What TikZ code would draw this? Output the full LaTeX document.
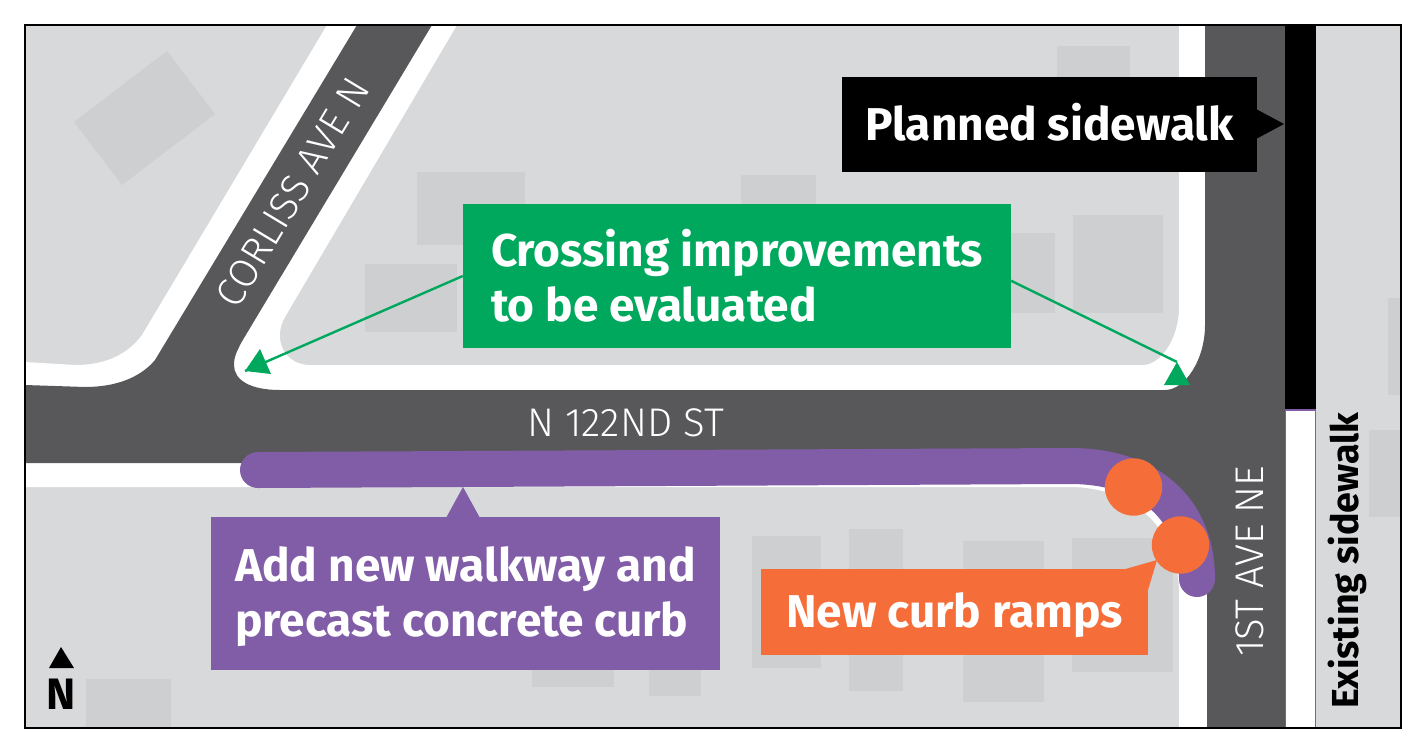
\documentclass[tikz,border=0pt]{standalone}
\usepackage{fontspec}
\setmainfont{Fira Sans}
\newfontfamily\streetfont{Fira Sans Light}
\usetikzlibrary{positioning}
\definecolor{lotgray}{HTML}{D8D9DB}
\definecolor{housegray}{HTML}{CECFD1}
\definecolor{roadgray}{HTML}{58585A}
\definecolor{walkpurple}{HTML}{805DA6}
\definecolor{crossgreen}{HTML}{00A85D}
\definecolor{rampOrange}{HTML}{F56D38}
\tikzset{
  house/.style={fill=housegray},
  notebox/.style={rectangle,inner sep=0pt,text=white,align=left,font=\bfseries\fontsize{46}{55}\selectfont},
  streetname/.style={text=white,inner sep=0pt,anchor=base west,font=\streetfont\fontsize{40}{40}\selectfont},
  rampdot/.style={circle,fill=rampOrange,minimum size=57.4pt,inner sep=0pt},
  crossline/.style={crossgreen,line width=2.4pt}
}
\begin{document}
\begin{tikzpicture}[x=1pt,y=-1pt]
\useasboundingbox (0,0) rectangle (1427,745);
\fill[lotgray] (24,24) rectangle (1401,728);

% houses
\fill[house] (167,51) -- (215,114) -- (122,185) -- (74,122) -- cycle;
\fill[house] (417,172) rectangle (525,245);
\fill[house] (365,264) rectangle (457,332);
\fill[house] (741,175) rectangle (816,230);
\fill[house] (1057,46) rectangle (1130,100);
\fill[house] (1000,233) rectangle (1055,313);
\fill[house] (1073,215) rectangle (1163,313);
\fill[house] (752,536) rectangle (821,668);
\fill[house] (849,529) rectangle (903,691);
\fill[house] (963,541) rectangle (1044,702);
\fill[house] (1072,538) rectangle (1173,672);
\fill[house] (532,650) rectangle (614,687);
\fill[house] (649,650) rectangle (701,696);
\fill[house] (86,679) rectangle (171,727);
\fill[house] (1388,298) rectangle (1401,395);
\fill[house] (1369,430) rectangle (1401,517);

% sidewalks, then the roads on top
\fill[white] (327,25) -- (142,335) .. controls (125,358) and (100,365) .. (75,365) -- (25,362)
  -- (25,487) -- (1070,487) .. controls (1130,487) and (1177,525) .. (1179,590) -- (1179,727)
  -- (1285,727) -- (1285,25) -- (1179,25) -- (1179,307) .. controls (1179,340) and (1160,365) .. (1143,365)
  -- (310,365) .. controls (285,365) and (272,340) .. (285,317) -- (457,25) -- cycle;
\fill[roadgray] (357,25) -- (155,360) .. controls (140,378) and (115,387) .. (85,387) -- (25,385)
  -- (25,463) -- (1070,463) .. controls (1150,463) and (1207,510) .. (1207,590) -- (1207,727)
  -- (1285,727) -- (1285,25) -- (1205,25)
  -- (1205,325) .. controls (1205,360) and (1185,390) .. (1165,390) -- (280,390)
  .. controls (250,390) and (234,380) .. (234,365) .. controls (234,355) and (238,350) .. (241,343)
  -- (432,25) -- cycle;

\fill[black] (1285,25) rectangle (1316,409);
\draw[walkpurple,fill=white,line width=1.2pt] (1285.6,727) -- (1285.6,410) -- (1315.5,410) -- (1315.5,727);

\draw[walkpurple,line width=36pt,line cap=round] (258,470) -- (1070,466)
  .. controls (1150,466) and (1197,510) .. (1197,579);

\node[rampdot] (rampa) at (1133.5,487) {};
\node[rampdot] (rampb) at (1180.5,545) {};

\node[streetname] (street) at (527,436) {N 122ND ST};
\node[streetname,rotate=58.9] (corliss) at (237,310.5) {CORLISS AVE N};
\node[streetname,rotate=90] (first) at (1263,657) {1ST AVE NE};
\node[inner sep=0pt,anchor=base west,rotate=90,font=\bfseries\fontsize{37.6}{37.6}\selectfont] (existing) at (1358,709) {Existing sidewalk};

\node[notebox,fill=black,minimum width=415pt,minimum height=95pt] (planned) at (1049.5,124.5) {\rule[-6pt]{0pt}{0pt}Planned sidewalk};
\fill[black] (1256,109) -- (1284,124) -- (1256,139) -- cycle;

\node[notebox,fill=crossgreen,minimum width=548pt,minimum height=144pt] (crossing) at (737,276) {Crossing improvements\\to be evaluated};
\coordinate (cornerw) at (245,371);
\coordinate (cornere) at (1177,362);
\draw[crossline] (crossing.west) -- (cornerw);
\draw[crossline] (crossing.-1) -- (cornere);
\fill[crossgreen] (cornerw) -- (260,349) -- (271,374) -- cycle;
\fill[crossgreen] (cornere) -- (1164,385) -- (1190,385) -- cycle;

\node[notebox,fill=walkpurple,minimum width=509pt,minimum height=153pt] (walkway) at (465.5,593.5) {\rule{0pt}{42pt}Add new walkway and\\precast concrete curb};
\fill[walkpurple] (446,518) -- (463,487) -- (480,518) -- cycle;

\node[notebox,fill=rampOrange,minimum width=387pt,minimum height=86pt] (ramps) at (954.5,612) {\rule{0pt}{42pt}New curb ramps};
\fill[rampOrange] (1122,570) -- (1157,560) -- (1148,590) -- cycle;

\fill[black] (61,647) -- (49,668) -- (74,668) -- cycle;
\node[inner sep=0pt,anchor=base,font=\bfseries\fontsize{44}{44}\selectfont] (north) at (61.5,709) {N};

\draw[black,line width=2pt] (24.5,24.5) rectangle (1401,727.5);
\end{tikzpicture}
\end{document}
